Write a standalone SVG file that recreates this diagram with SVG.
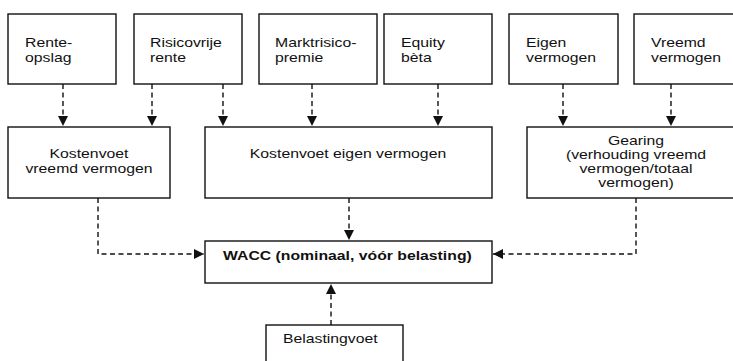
<svg xmlns="http://www.w3.org/2000/svg" width="733" height="361" viewBox="0 0 733 361">
<style>
.box{fill:#fff;stroke:#111;stroke-width:1.4}
.t{font-family:"Liberation Sans",Arial,sans-serif;font-size:13.6px;fill:#111}
.c{text-anchor:middle}
.b{font-weight:bold}
.ln{fill:none;stroke:#111;stroke-width:1.4;stroke-dasharray:5,3.5}
</style>
<defs>
<marker id="ah" viewBox="0 0 10 10" refX="10" refY="5" markerWidth="10" markerHeight="10" markerUnits="userSpaceOnUse" orient="auto">
<path d="M0,0 L10,5 L0,10 Z" fill="#111"/>
</marker>
</defs>
<rect width="733" height="361" fill="#fff"/>
<g id="connectors">
<path class="ln" d="M63,84 V126" marker-end="url(#ah)"/>
<path class="ln" d="M152,84 V126" marker-end="url(#ah)"/>
<path class="ln" d="M223,84 V126" marker-end="url(#ah)"/>
<path class="ln" d="M312,84 V126" marker-end="url(#ah)"/>
<path class="ln" d="M438,84 V126" marker-end="url(#ah)"/>
<path class="ln" d="M563,84 V126" marker-end="url(#ah)"/>
<path class="ln" d="M671,84 V126" marker-end="url(#ah)"/>
<path class="ln" d="M98,198 V254 H204" marker-end="url(#ah)"/>
<path class="ln" d="M349,198 V240" marker-end="url(#ah)"/>
<path class="ln" d="M636,198 V254 H493" marker-end="url(#ah)"/>
<path class="ln" d="M331,325 V284" marker-end="url(#ah)"/>
</g>
<g id="rente-opslag"><rect class="box" x="8" y="14" width="108" height="70"/><text class="t" transform="translate(25,47) scale(1.16,1)">Rente-</text><text class="t" transform="translate(25,62) scale(1.16,1)">opslag</text></g>
<g id="risicovrije-rente"><rect class="box" x="134" y="14" width="108" height="70"/><text class="t" transform="translate(150,47) scale(1.16,1)">Risicovrije</text><text class="t" transform="translate(150,62) scale(1.16,1)">rente</text></g>
<g id="marktrisicopremie"><rect class="box" x="259" y="14" width="118" height="70"/><text class="t" transform="translate(275,47) scale(1.16,1)">Marktrisico-</text><text class="t" transform="translate(275,62) scale(1.16,1)">premie</text></g>
<g id="equity-beta"><rect class="box" x="384" y="14" width="108" height="70"/><text class="t" transform="translate(401,47) scale(1.16,1)">Equity</text><text class="t" transform="translate(401,62) scale(1.16,1)">bèta</text></g>
<g id="eigen-vermogen"><rect class="box" x="509" y="14" width="109" height="70"/><text class="t" transform="translate(526,47) scale(1.16,1)">Eigen</text><text class="t" transform="translate(526,62) scale(1.16,1)">vermogen</text></g>
<g id="vreemd-vermogen"><rect class="box" x="634" y="14" width="110" height="70"/><text class="t" transform="translate(651,47) scale(1.16,1)">Vreemd</text><text class="t" transform="translate(651,62) scale(1.16,1)">vermogen</text></g>
<g id="kostenvoet-vv"><rect class="box" x="8" y="127" width="162" height="71"/><text class="t c" transform="translate(89,158) scale(1.16,1)">Kostenvoet</text><text class="t c" transform="translate(89,173) scale(1.16,1)">vreemd vermogen</text></g>
<g id="kostenvoet-ev"><rect class="box" x="205" y="127" width="287" height="71"/><text class="t c" transform="translate(348,158) scale(1.16,1)">Kostenvoet eigen vermogen</text></g>
<g id="gearing"><rect class="box" x="527" y="127" width="215" height="71"/><text class="t c" transform="translate(636,145) scale(1.16,1)">Gearing</text><text class="t c" transform="translate(636,159) scale(1.16,1)">(verhouding vreemd</text><text class="t c" transform="translate(636,173) scale(1.16,1)">vermogen/totaal</text><text class="t c" transform="translate(636,187) scale(1.16,1)">vermogen)</text></g>
<g id="wacc"><rect class="box" x="205" y="241" width="287" height="42"/><text class="t b" transform="translate(223,260) scale(1.16,1)">WACC (nominaal, vóór belasting)</text></g>
<g id="belastingvoet"><rect class="box" x="266" y="325" width="137" height="50"/><text class="t" transform="translate(283,343) scale(1.16,1)">Belastingvoet</text></g>
</svg>
